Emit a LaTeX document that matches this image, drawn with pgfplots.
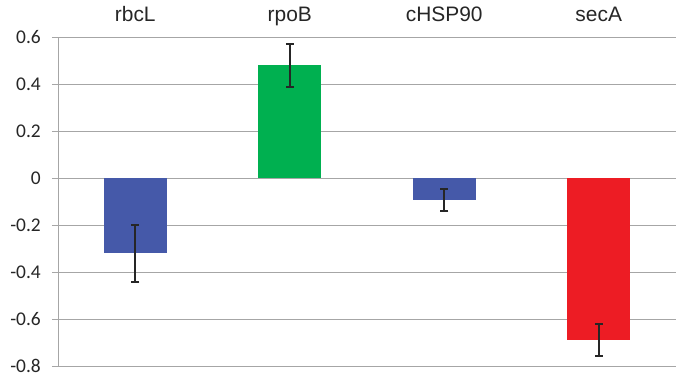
\documentclass[border=0pt]{standalone}
\usepackage{pgfplots}
\pgfplotsset{compat=1.18}
\usepackage{fontspec}
\setmainfont{Liberation Sans}
\newfontfamily\tickfont{Carlito}
\usetikzlibrary{calc}
\definecolor{cblue}{RGB}{69,89,169}
\definecolor{cgreen}{RGB}{0,176,80}
\definecolor{cred}{RGB}{237,28,36}
\definecolor{gridc}{RGB}{166,166,166}
\definecolor{txt}{RGB}{38,38,38}
\begin{document}
\begin{tikzpicture}
\begin{axis}[
  scale only axis,
  width=618bp, height=329bp,
  xmin=-0.5, xmax=3.5,
  ymin=-0.8, ymax=0.6,
  ytick={-0.8,-0.6,...,0.61},
  yticklabels={-0.8,-0.6,-0.4,-0.2,0,0.2,0.4,0.6},
  xtick={0,1,2,3},
  xticklabels={rbcL,rpoB,cHSP90,secA},
  xticklabel pos=upper,
  xtick style={draw=none},
  ytick style={draw=gridc, line width=0.8bp},
  tick align=outside,
  major tick length=6bp,
  axis line style={draw=none},
  ymajorgrids,
  grid style={draw=gridc, line width=0.9bp},
  xticklabel style={font=\fontsize{21}{24}\selectfont, text=txt, anchor=base, yshift=10bp},
  yticklabel style={font=\tickfont\fontsize{19.5}{22}\selectfont, text=txt, anchor=east, inner sep=0pt, xshift=-11bp},
  clip=false,
  ybar, bar width=63bp, bar shift=0pt,
  error bars/error bar style={line width=2bp, black!85},
  error bars/error mark options={rotate=90, mark size=4bp, line width=2bp, black!85},
]
\addplot[fill=cblue, draw=none, error bars/.cd, y dir=both, y explicit]
  coordinates {(0,-0.321) +- (0,0.120)};
\addplot[fill=cgreen, draw=none, error bars/.cd, y dir=both, y explicit]
  coordinates {(1,0.479) +- (0,0.092)};
\addplot[fill=cblue, draw=none, error bars/.cd, y dir=both, y explicit]
  coordinates {(2,-0.094) +- (0,0.047)};
\addplot[fill=cred, draw=none, error bars/.cd, y dir=both, y explicit]
  coordinates {(3,-0.689) +- (0,0.067)};
\draw[gridc, line width=0.9bp] (rel axis cs:0,0) -- (rel axis cs:0,1);
\coordinate (A) at (rel axis cs:0,0);
\coordinate (B) at (rel axis cs:1,1);
\end{axis}
\pgfresetboundingbox
\useasboundingbox ($(A)+(-58bp,-11bp)$) rectangle ($(B)+(0bp,37bp)$);
\end{tikzpicture}
\end{document}
